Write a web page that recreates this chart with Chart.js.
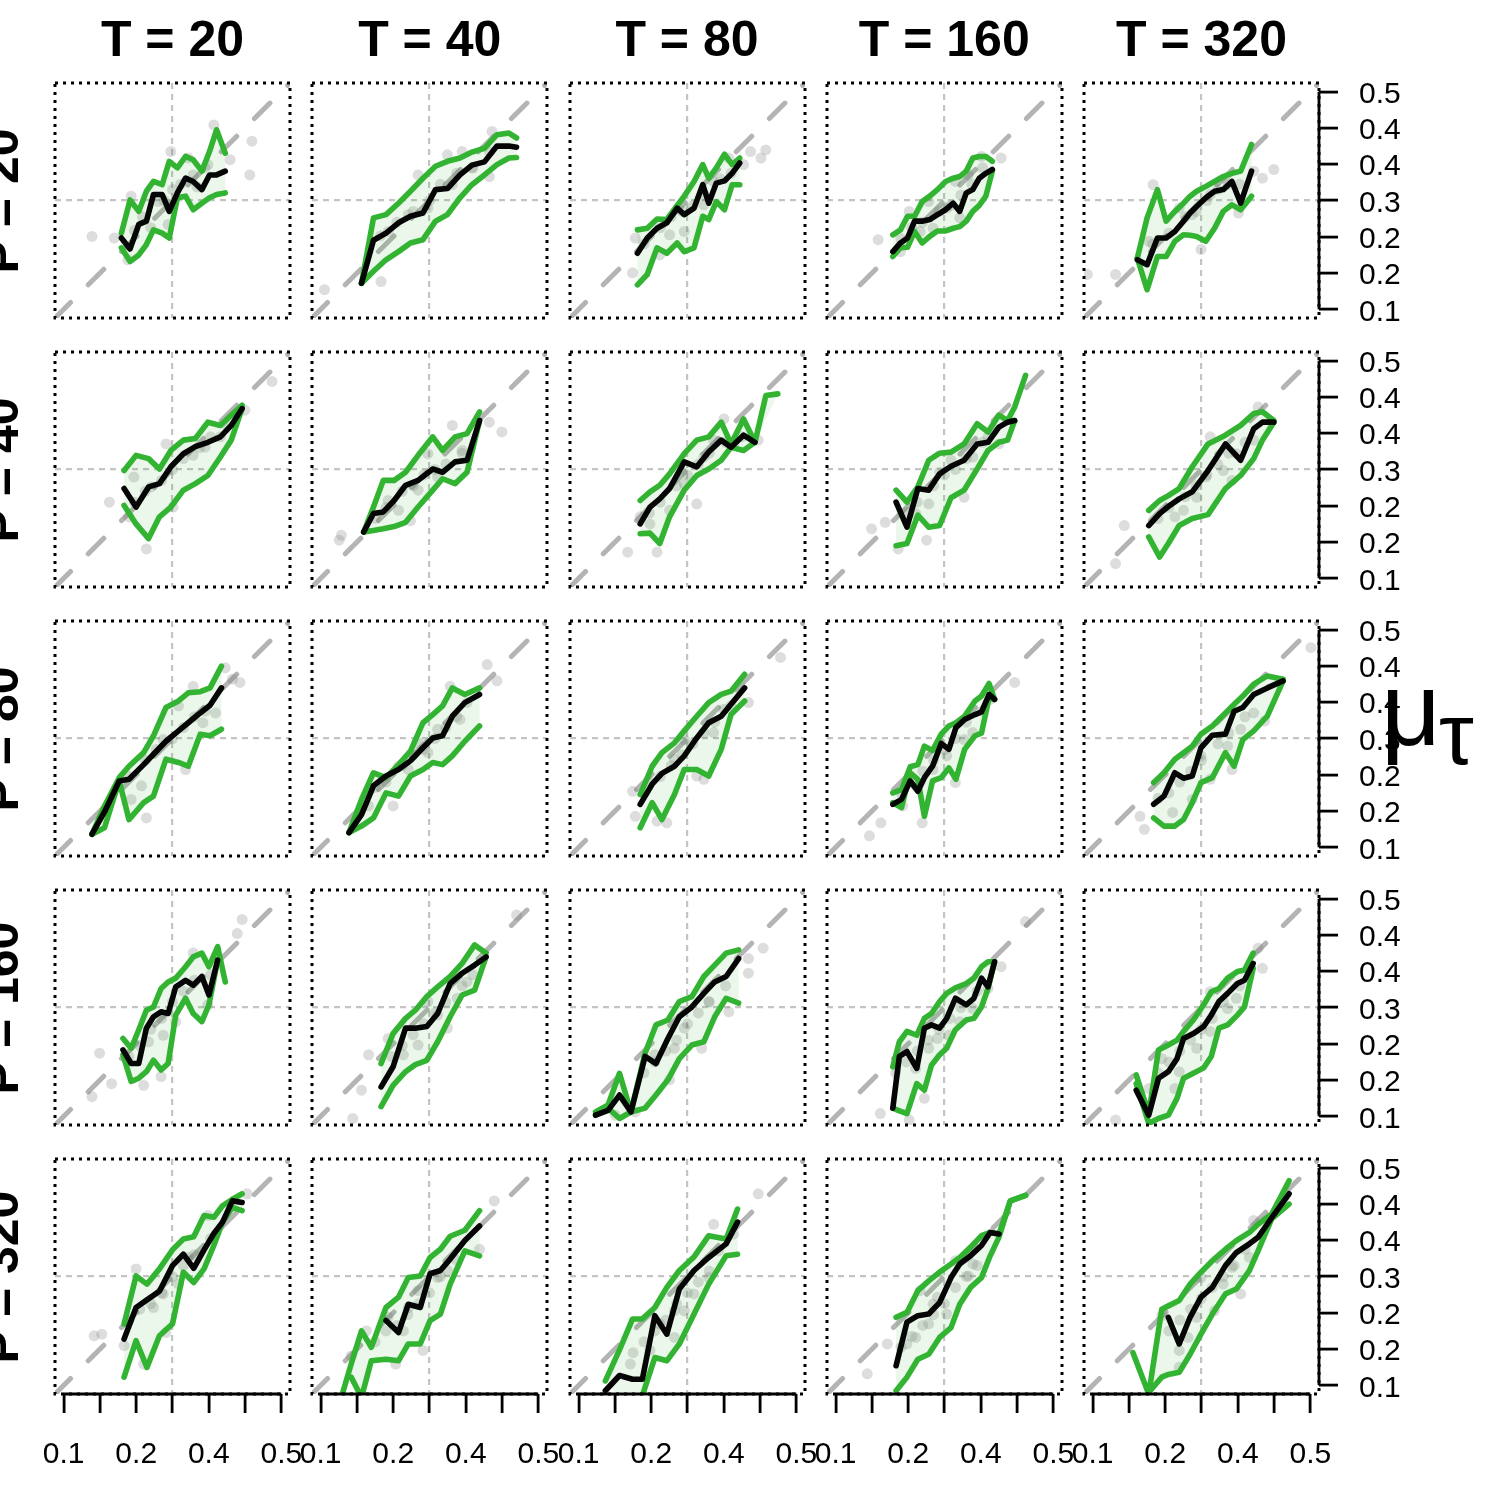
<!DOCTYPE html>
<html><head><meta charset="utf-8">
<script src="https://cdn.jsdelivr.net/npm/chart.js@4.4.1/dist/chart.umd.min.js"></script>
<style>
html,body{margin:0;padding:0;background:#fff;}
#wrap{position:relative;width:1500px;height:1500px;overflow:hidden;background:#fff;font-family:"Liberation Sans",Arial,Helvetica,sans-serif;color:#000;}
#wrap canvas{position:absolute;}
.ttl{position:absolute;font-weight:bold;font-size:50px;line-height:50px;white-space:nowrap;transform:translateX(-50%);}
.rowl{position:absolute;font-weight:bold;font-size:50px;line-height:50px;white-space:nowrap;transform:translate(-50%,-50%) rotate(-90deg);}
.sym{position:absolute;white-space:nowrap;}
</style></head><body><div id="wrap"></div>
<script>
// ---------------- data ----------------
const colT = [20, 40, 80, 160, 320];
const rowP = [20, 40, 80, 160, 320];
const tickValues = [0.1, 0.1667, 0.2333, 0.3, 0.3667, 0.4333, 0.5];
const xTickLabels = ['0.1', '', '0.2', '', '0.4', '', '0.5'];
const yTickLabels = ['0.1', '0.2', '0.2', '0.3', '0.4', '0.4', '0.5'];
const gridValue = 0.3;

// panels in row-major order: P = 20..320 (rows), T = 20..320 (columns)
const binX = [
[0.206,0.222,0.238,0.252,0.265,0.281,0.294,0.309,0.324,0.338,0.354,0.368,0.381,0.397],
[0.175,0.197,0.220,0.243,0.265,0.288,0.311,0.333,0.356,0.378,0.401,0.424,0.446,0.460],
[0.208,0.226,0.244,0.262,0.281,0.294,0.312,0.328,0.339,0.353,0.368,0.382,0.396],
[0.205,0.219,0.232,0.245,0.259,0.273,0.287,0.302,0.316,0.328,0.340,0.352,0.364,0.376,0.388],
[0.182,0.200,0.219,0.235,0.251,0.267,0.279,0.291,0.308,0.324,0.340,0.356,0.372,0.392],
[0.211,0.233,0.256,0.276,0.297,0.320,0.342,0.365,0.388,0.408,0.428],
[0.179,0.197,0.215,0.235,0.256,0.279,0.306,0.324,0.347,0.369,0.392],
[0.213,0.231,0.249,0.267,0.294,0.317,0.339,0.362,0.380,0.403,0.424,0.444,0.466],
[0.211,0.231,0.251,0.271,0.291,0.312,0.336,0.360,0.380,0.400,0.416,0.429,0.449],
[0.203,0.223,0.239,0.259,0.283,0.312,0.344,0.372,0.396,0.412,0.433],
[0.152,0.175,0.202,0.220,0.247,0.265,0.288,0.311,0.329,0.351,0.369,0.390],
[0.152,0.175,0.197,0.220,0.243,0.265,0.288,0.306,0.324,0.342,0.365,0.392],
[0.213,0.235,0.253,0.276,0.294,0.317,0.339,0.362,0.380,0.405],
[0.205,0.221,0.237,0.251,0.263,0.278,0.294,0.308,0.321,0.337,0.356,0.368,0.382,0.392],
[0.212,0.231,0.251,0.267,0.283,0.299,0.320,0.344,0.360,0.376,0.396,0.421,0.450],
[0.209,0.224,0.238,0.252,0.265,0.279,0.292,0.306,0.324,0.338,0.354,0.367,0.383,0.397],
[0.211,0.233,0.256,0.274,0.295,0.315,0.338,0.360,0.383,0.404],
[0.131,0.154,0.175,0.196,0.222,0.242,0.264,0.285,0.308,0.330,0.350,0.371,0.394],
[0.205,0.217,0.231,0.249,0.263,0.276,0.291,0.304,0.320,0.340,0.354,0.368,0.380,0.392],
[0.180,0.203,0.221,0.239,0.255,0.267,0.285,0.304,0.318,0.332,0.348,0.366,0.379,0.395],
[0.211,0.233,0.253,0.276,0.300,0.320,0.339,0.358,0.376,0.392,0.410,0.428],
[0.138,0.156,0.175,0.193,0.220,0.243,0.261,0.283,0.301,0.320,0.338,0.365,0.392],
[0.149,0.175,0.199,0.217,0.240,0.262,0.285,0.312,0.339,0.371,0.392],
[0.211,0.231,0.251,0.271,0.291,0.312,0.328,0.348,0.368,0.384,0.400,0.421,0.449],
[0.174,0.203,0.227,0.239,0.259,0.279,0.299,0.320,0.344,0.364,0.388,0.404,0.429,0.461]
];
const meanY = [
[0.231,0.211,0.256,0.262,0.311,0.311,0.280,0.314,0.341,0.335,0.320,0.347,0.347,0.354],
[0.148,0.227,0.240,0.259,0.271,0.277,0.320,0.322,0.347,0.365,0.371,0.400,0.400,0.398],
[0.203,0.231,0.249,0.259,0.286,0.274,0.286,0.329,0.295,0.332,0.336,0.350,0.369],
[0.206,0.222,0.231,0.262,0.262,0.265,0.274,0.283,0.295,0.280,0.314,0.320,0.341,0.350,0.357],
[0.191,0.182,0.231,0.231,0.243,0.262,0.277,0.289,0.305,0.317,0.320,0.335,0.295,0.354],
[0.265,0.231,0.268,0.274,0.305,0.329,0.342,0.350,0.360,0.381,0.412],
[0.185,0.219,0.222,0.243,0.271,0.280,0.301,0.295,0.314,0.317,0.390],
[0.200,0.231,0.246,0.265,0.314,0.305,0.332,0.354,0.341,0.363,0.350,null,null],
[0.240,0.194,0.265,0.262,0.292,0.306,0.317,0.347,0.350,0.378,0.387,0.390,null],
[0.197,0.219,0.232,0.246,0.259,0.298,0.347,0.317,0.375,0.387,0.387],
[0.124,0.165,0.222,0.225,0.252,0.271,0.295,0.314,0.329,0.347,0.361,0.393],
[0.127,0.160,0.213,0.231,0.243,0.259,0.283,0.301,0.305,0.341,0.366,0.381],
[0.179,0.216,0.236,0.249,0.268,0.301,0.329,0.341,0.363,0.393],
[0.179,0.188,0.222,0.203,0.228,0.249,0.291,0.280,0.320,0.335,0.344,0.349,0.381,0.372],
[0.179,0.194,0.237,0.227,0.231,0.283,0.306,0.308,0.350,0.357,0.381,0.393,0.406],
[0.222,0.197,0.197,0.262,0.283,0.292,0.289,0.338,0.350,0.341,0.357,0.323,0.387,null],
[0.154,0.191,0.262,0.262,0.265,0.289,0.344,0.363,0.378,0.393],
[0.102,0.111,0.139,0.108,0.210,0.197,0.243,0.283,0.301,0.326,0.347,0.357,0.390],
[0.115,0.210,0.219,0.188,0.262,0.268,0.262,0.280,0.317,0.305,0.317,0.354,0.338,0.384],
[0.148,0.102,0.170,0.182,0.206,0.243,0.252,0.265,0.286,0.311,0.326,0.344,0.350,0.381],
[0.185,0.243,0.257,0.273,0.320,0.341,0.315,0.349,0.379,0.400,0.439,0.436],
[null,null,null,null,0.219,0.197,0.249,0.243,0.305,0.311,0.332,0.366,0.393],
[0.090,0.118,0.111,0.111,0.228,0.194,0.277,0.311,0.335,0.360,0.400],
[0.136,0.216,0.228,0.231,0.252,0.298,0.323,0.338,0.357,0.381,0.378,null,null],
[null,null,null,0.225,0.176,0.225,0.262,0.280,0.320,0.344,0.360,0.372,0.408,0.452]
];
const upperY = [
[0.240,0.301,0.280,0.317,0.335,0.329,0.372,0.360,0.381,0.375,0.354,0.390,0.430,0.387],
[0.148,0.268,0.274,0.295,0.317,0.341,0.363,0.372,0.378,0.389,0.396,0.421,0.424,0.415],
[0.246,0.249,0.266,0.265,0.291,0.308,0.335,0.366,0.341,0.360,0.385,0.366,0.378],
[0.237,0.246,0.271,0.271,0.298,0.308,0.320,0.335,0.341,0.344,0.354,0.378,0.381,0.381,0.372],
[0.194,0.268,0.320,0.262,0.280,0.295,0.308,0.317,0.326,0.335,0.344,0.350,0.354,0.403],
[0.298,0.326,0.320,0.301,0.335,0.354,0.357,0.387,0.381,0.400,0.418],
[0.185,0.231,0.280,0.280,0.295,0.326,0.360,0.335,0.360,0.366,0.406],
[0.243,0.259,0.271,0.292,0.329,0.354,0.360,0.387,0.347,0.393,0.350,0.436,0.439],
[0.262,0.240,0.268,0.317,0.330,0.332,0.347,0.384,0.369,0.400,0.390,0.415,0.473],
[0.225,0.243,0.252,0.265,0.305,0.347,0.363,0.381,0.403,0.406,0.390],
[0.124,0.176,0.228,0.249,0.274,0.305,0.357,0.369,0.384,0.386,0.393,0.433],
[0.127,0.188,0.237,0.228,0.252,0.277,0.329,0.344,0.360,0.393,0.381,0.393],
[0.197,0.249,0.274,0.292,0.314,0.341,0.366,0.381,0.387,0.418],
[0.200,0.206,0.248,0.252,0.286,0.278,0.308,0.323,0.329,0.341,0.369,0.378,0.401,0.372],
[0.219,0.237,0.262,0.274,0.286,0.308,0.323,0.347,0.363,0.378,0.400,0.415,0.409],
[0.243,0.225,0.259,0.295,0.301,0.335,0.347,0.354,0.375,0.393,0.400,0.375,0.412,0.347],
[0.197,0.252,0.280,0.295,0.320,0.338,0.357,0.381,0.415,0.400],
[0.108,0.121,0.179,0.108,0.216,0.268,0.277,0.311,0.320,0.357,0.378,0.400,0.406],
[0.191,0.237,0.256,0.249,0.280,0.289,0.311,0.326,0.336,0.344,0.354,0.375,0.384,0.384],
[0.176,0.105,0.222,0.231,0.240,0.256,0.277,0.305,0.329,0.335,0.354,0.366,0.369,0.400],
[0.213,0.301,0.286,0.314,0.349,0.369,0.373,0.412,0.409,0.430,0.442,0.452],
[0.078,0.139,0.200,0.170,0.243,0.262,0.298,0.301,0.335,0.350,0.374,0.385,0.421],
[0.108,0.165,0.222,0.222,0.243,0.280,0.311,0.336,0.375,0.369,0.424],
[0.225,0.234,0.274,0.292,0.308,0.323,0.335,0.354,0.375,0.381,0.378,0.439,0.449],
[0.160,0.084,0.240,0.246,0.256,0.286,0.308,0.329,0.350,0.366,0.381,0.396,0.415,0.476]
];
const lowerY = [
[0.213,0.188,0.200,0.219,0.246,0.240,0.231,0.305,0.308,0.283,0.295,0.305,0.311,0.314],
[0.148,0.170,0.191,0.206,0.222,0.228,0.262,0.274,0.305,0.329,0.347,0.366,0.378,0.379],
[0.145,0.164,0.213,0.203,0.222,0.206,0.213,0.271,0.265,0.298,0.283,0.329,0.329],
[0.197,0.213,0.214,0.243,0.222,0.234,0.244,0.244,0.249,0.252,0.262,0.280,0.291,0.308,0.354],
[0.194,0.136,0.197,0.197,0.225,0.237,0.236,0.234,0.225,0.249,0.280,0.292,0.283,0.308],
[0.234,0.200,0.173,0.213,0.231,0.262,0.274,0.289,0.323,0.354,0.412],
[0.185,0.188,0.191,0.195,0.203,0.231,0.262,0.283,0.274,0.295,0.390],
[0.182,0.183,0.164,0.213,0.262,0.289,0.301,0.317,0.341,0.335,0.350,null,null],
[0.160,0.164,0.216,0.194,0.197,0.248,0.262,0.301,0.335,0.350,0.354,0.390,null],
[0.176,0.139,0.164,0.197,0.210,0.217,0.265,0.289,0.320,0.354,0.387],
[0.124,0.136,0.222,0.151,0.182,0.194,0.262,0.256,0.249,0.308,0.305,0.317],
[0.127,0.139,0.154,0.200,0.194,0.231,0.243,0.256,0.252,0.268,0.295,0.323],
[0.136,0.182,0.151,0.197,0.243,0.243,0.231,0.280,0.344,0.369],
[0.182,0.173,0.237,0.225,0.157,0.222,0.228,0.246,0.225,0.280,0.305,0.310,0.375,0.372],
[0.154,0.139,0.139,0.151,0.182,0.219,0.228,0.274,0.249,0.298,0.314,0.341,0.406],
[0.213,0.164,0.170,0.182,0.203,0.185,0.197,0.286,0.317,0.289,0.274,0.305,0.387,null],
[0.118,0.157,0.182,0.195,0.203,0.237,0.283,0.323,0.332,0.393],
[0.102,0.115,0.096,0.108,0.115,0.139,0.167,0.206,0.231,0.237,0.283,0.317,0.308],
[0.115,0.110,0.105,0.160,0.148,0.194,0.213,0.225,0.259,0.277,0.280,0.301,0.335,0.384],
[0.160,0.087,0.096,0.102,0.133,0.170,0.179,0.189,0.210,0.262,0.268,0.286,0.301,0.372],
[0.115,0.182,0.133,0.191,0.213,0.308,0.289,0.314,0.357,0.400,0.427,0.421],
[null,0.115,0.078,0.145,0.148,0.145,0.176,0.176,0.219,0.231,0.286,0.347,0.338],
[null,0.078,0.079,0.081,0.151,0.145,0.176,0.231,0.286,0.338,0.341],
[0.090,0.115,0.148,0.157,0.188,0.206,0.249,0.280,0.298,0.338,0.372,0.439,0.449],
[null,0.087,0.115,0.120,0.124,0.157,0.194,0.231,0.268,0.277,0.311,0.347,0.406,0.433]
];
const dotX = [
[0.152,0.193,0.376,0.446,0.442,0.406,0.297,0.224,0.329,0.218,0.274,0.338,0.292,0.365,0.245,0.260,0.285,0.300,0.315,0.345,0.360,0.230],
[0.107,0.211,0.279,0.333,0.360,0.415,0.410,0.224,0.297,0.342,0.378,0.261,0.210,0.240,0.270,0.300,0.320,0.350,0.380,0.410],
[0.199,0.204,0.416,0.444,0.435,0.376,0.403,0.267,0.294,0.330,0.348,0.249,0.220,0.250,0.270,0.290,0.310,0.330,0.360,0.380],
[0.178,0.235,0.404,0.368,0.344,0.279,0.304,0.255,0.320,0.271,0.219,0.328,0.220,0.240,0.260,0.290,0.310,0.330,0.350,0.370],
[0.090,0.142,0.211,0.299,0.396,0.412,0.433,0.368,0.259,0.316,0.348,0.283,0.203,0.210,0.240,0.270,0.290,0.310,0.330,0.350,0.370],
[0.184,0.252,0.483,0.433,0.229,0.288,0.338,0.301,0.261,0.360,0.220,0.388,0.230,0.250,0.280,0.300,0.320,0.350,0.370,0.400],
[0.134,0.138,0.410,0.433,0.342,0.224,0.265,0.279,0.315,0.297,0.360,0.243,0.200,0.220,0.250,0.270,0.290,0.310,0.330,0.360],
[0.190,0.244,0.367,0.430,0.317,0.231,0.267,0.294,0.330,0.348,0.385,0.213,0.230,0.250,0.280,0.300,0.320,0.340,0.370,0.400],
[0.166,0.191,0.215,0.336,0.267,0.291,0.312,0.271,0.247,0.400,0.380,0.352,0.230,0.250,0.280,0.300,0.320,0.340,0.370,0.390],
[0.158,0.142,0.404,0.356,0.316,0.267,0.291,0.340,0.364,0.251,0.396,0.308,0.220,0.240,0.270,0.290,0.310,0.330,0.350,0.380],
[0.252,0.410,0.424,0.397,0.324,0.338,0.311,0.283,0.243,0.356,0.379,0.224,0.200,0.220,0.250,0.270,0.300,0.320,0.340,0.360],
[0.233,0.406,0.424,0.338,0.279,0.315,0.243,0.261,0.297,0.356,0.369,0.188,0.200,0.220,0.250,0.270,0.290,0.310,0.330,0.350],
[0.199,0.204,0.244,0.262,0.317,0.330,0.471,0.412,0.294,0.276,0.348,0.367,0.230,0.250,0.270,0.290,0.310,0.330,0.350,0.380],
[0.162,0.183,0.429,0.384,0.259,0.320,0.223,0.279,0.304,0.336,0.352,0.247,0.220,0.240,0.260,0.280,0.300,0.320,0.340,0.370],
[0.187,0.195,0.501,0.416,0.356,0.247,0.283,0.316,0.348,0.372,0.396,0.299,0.220,0.240,0.260,0.280,0.300,0.330,0.350,0.380],
[0.166,0.152,0.188,0.247,0.279,0.428,0.419,0.338,0.283,0.306,0.365,0.256,0.220,0.240,0.260,0.280,0.300,0.320,0.340,0.370],
[0.159,0.175,0.188,0.460,0.224,0.279,0.315,0.351,0.297,0.252,0.369,0.333,0.230,0.250,0.270,0.290,0.310,0.330,0.360,0.380],
[0.412,0.412,0.439,0.267,0.326,0.376,0.240,0.204,0.294,0.339,0.276,0.167,0.220,0.240,0.260,0.280,0.300,0.320,0.340,0.370],
[0.182,0.235,0.263,0.449,0.404,0.308,0.271,0.247,0.328,0.352,0.287,0.380,0.210,0.230,0.250,0.270,0.290,0.310,0.330,0.360],
[0.142,0.412,0.404,0.316,0.227,0.259,0.291,0.316,0.348,0.364,0.251,0.203,0.220,0.240,0.260,0.280,0.300,0.320,0.340,0.370],
[0.156,0.170,0.211,0.247,0.288,0.233,0.437,0.365,0.265,0.283,0.329,0.311,0.220,0.240,0.260,0.280,0.300,0.320,0.340,0.370],
[0.156,0.184,0.238,0.288,0.419,0.392,0.224,0.261,0.279,0.315,0.333,0.252,0.200,0.220,0.240,0.260,0.280,0.300,0.320,0.350],
[0.195,0.430,0.348,0.385,0.249,0.276,0.294,0.312,0.339,0.231,0.276,0.357,0.200,0.220,0.240,0.260,0.280,0.300,0.320,0.340],
[0.158,0.195,0.231,0.247,0.271,0.255,0.304,0.344,0.320,0.287,0.352,0.279,0.220,0.240,0.260,0.280,0.300,0.320,0.340,0.360],
[0.227,0.259,0.275,0.299,0.372,0.396,0.388,0.324,0.340,0.356,0.259,0.291,0.240,0.260,0.280,0.300,0.320,0.340,0.360,0.380]
];
const dotY = [
[0.234,0.231,0.439,0.409,0.347,0.375,0.390,0.308,0.378,0.191,0.298,0.347,0.256,0.366,0.270,0.250,0.300,0.320,0.330,0.325,0.360,0.245],
[0.136,0.151,0.347,0.384,0.390,0.427,0.344,0.243,0.286,0.329,0.360,0.274,0.235,0.260,0.280,0.300,0.330,0.350,0.360,0.390],
[0.167,0.231,0.390,0.393,0.378,0.378,0.366,0.237,0.243,0.292,0.335,0.200,0.220,0.250,0.270,0.280,0.290,0.310,0.340,0.350],
[0.228,0.280,0.378,0.381,0.347,0.249,0.286,0.243,0.335,0.298,0.206,0.268,0.230,0.250,0.260,0.280,0.290,0.310,0.330,0.360],
[0.164,0.164,0.329,0.210,0.354,0.341,0.357,0.277,0.286,0.311,0.335,0.274,0.225,0.220,0.240,0.270,0.280,0.300,0.320,0.330,0.330],
[0.240,0.154,0.462,0.409,0.286,0.347,0.326,0.231,0.268,0.341,0.213,0.360,0.240,0.260,0.280,0.300,0.320,0.340,0.360,0.380],
[0.170,0.179,0.387,0.369,0.381,0.243,0.206,0.262,0.286,0.329,0.335,0.225,0.210,0.230,0.260,0.270,0.290,0.300,0.310,0.330],
[0.148,0.148,0.393,0.354,0.237,0.200,0.225,0.274,0.323,0.354,0.347,0.213,0.220,0.240,0.270,0.290,0.310,0.330,0.350,0.360],
[0.191,0.203,0.154,0.249,0.170,0.295,0.317,0.237,0.219,0.347,0.360,0.323,0.220,0.240,0.270,0.290,0.300,0.320,0.350,0.370],
[0.197,0.127,0.415,0.280,0.360,0.225,0.249,0.298,0.329,0.213,0.354,0.286,0.210,0.230,0.250,0.270,0.290,0.310,0.330,0.350],
[0.154,0.409,0.403,0.430,0.243,0.396,0.360,0.298,0.213,0.329,0.347,0.188,0.210,0.230,0.260,0.280,0.300,0.320,0.340,0.350],
[0.176,0.436,0.406,0.396,0.292,0.317,0.249,0.243,0.274,0.335,0.366,0.176,0.210,0.220,0.250,0.270,0.280,0.300,0.320,0.340],
[0.203,0.157,0.148,0.145,0.231,0.225,0.449,0.366,0.298,0.262,0.311,0.354,0.220,0.230,0.250,0.270,0.290,0.310,0.330,0.360],
[0.121,0.145,0.403,0.372,0.145,0.219,0.176,0.243,0.268,0.298,0.311,0.213,0.200,0.220,0.240,0.260,0.280,0.300,0.330,0.350],
[0.157,0.133,0.467,0.332,0.243,0.164,0.188,0.225,0.286,0.317,0.347,0.268,0.190,0.200,0.220,0.240,0.260,0.290,0.310,0.340],
[0.216,0.136,0.160,0.157,0.173,0.462,0.436,0.400,0.249,0.274,0.305,0.237,0.210,0.230,0.260,0.280,0.310,0.330,0.350,0.360],
[0.096,0.148,0.213,0.470,0.243,0.231,0.286,0.317,0.311,0.213,0.347,0.262,0.210,0.230,0.250,0.270,0.290,0.310,0.340,0.360],
[0.390,0.363,0.409,0.167,0.225,0.292,0.213,0.108,0.262,0.311,0.225,0.102,0.180,0.200,0.220,0.240,0.270,0.290,0.310,0.340],
[0.105,0.093,0.133,0.458,0.375,0.249,0.225,0.188,0.274,0.298,0.243,0.335,0.180,0.200,0.220,0.240,0.260,0.280,0.300,0.330],
[0.093,0.372,0.409,0.329,0.206,0.182,0.225,0.256,0.298,0.317,0.151,0.151,0.180,0.200,0.220,0.240,0.260,0.280,0.310,0.340],
[0.191,0.194,0.173,0.139,0.197,0.314,0.452,0.412,0.243,0.268,0.335,0.286,0.220,0.240,0.250,0.270,0.300,0.320,0.340,0.370],
[0.154,0.200,0.139,0.164,0.439,0.350,0.225,0.243,0.274,0.298,0.311,0.200,0.180,0.200,0.210,0.230,0.250,0.270,0.300,0.330],
[0.139,0.452,0.396,0.378,0.213,0.188,0.237,0.268,0.298,0.164,0.237,0.347,0.160,0.180,0.200,0.220,0.250,0.270,0.290,0.310],
[0.121,0.176,0.176,0.188,0.213,0.274,0.231,0.301,0.329,0.262,0.323,0.249,0.170,0.190,0.210,0.230,0.250,0.280,0.300,0.320],
[0.228,0.164,0.188,0.298,0.268,0.403,0.335,0.237,0.286,0.317,0.133,0.225,0.200,0.220,0.240,0.260,0.280,0.300,0.320,0.350]
];

// ---------------- layout / style ----------------
const AX_MIN = 0.084, AX_MAX = 0.516;
const PANEL = 235, COL0 = 55, COL_STEP = 257.25, ROW0 = 83, ROW_STEP = 269;
const PAD = 30, XAXIS_H = 95, YAXIS_W = 140;
const FONT = '"Liberation Sans", Arial, Helvetica, sans-serif';
const GREEN = '#32b432';

const wrap = document.getElementById('wrap');

const panelBorder = {
  id: 'panelBorder',
  afterDatasetsDraw(chart) {
    const {ctx, chartArea: a} = chart;
    ctx.save();
    ctx.strokeStyle = '#000';
    ctx.lineWidth = 3;
    ctx.lineCap = 'butt';
    ctx.setLineDash([3, 5]);
    ctx.strokeRect(a.left, a.top, a.right - a.left, a.bottom - a.top);
    ctx.restore();
  }
};
const rAxisLine = {
  id: 'rAxisLine',
  afterDraw(chart, args, opts) {
    const {ctx, chartArea: a, scales} = chart;
    const lo = tickValues[0], hi = tickValues[tickValues.length - 1];
    ctx.save();
    ctx.strokeStyle = '#000'; ctx.lineWidth = 2.8; ctx.lineCap = 'butt'; ctx.setLineDash([]);
    if (opts.x) {
      ctx.beginPath();
      ctx.moveTo(scales.x.getPixelForValue(lo), a.bottom);
      ctx.lineTo(scales.x.getPixelForValue(hi), a.bottom);
      ctx.stroke();
    }
    if (opts.y) {
      ctx.beginPath();
      ctx.moveTo(a.right, scales.y.getPixelForValue(lo));
      ctx.lineTo(a.right, scales.y.getPixelForValue(hi));
      ctx.stroke();
    }
    ctx.restore();
  }
};

function scaleCfg(axis, show) {
  return {
    type: 'linear', min: AX_MIN, max: AX_MAX,
    position: axis === 'x' ? 'bottom' : (show ? 'right' : 'left'),
    afterBuildTicks: s => { s.ticks = tickValues.map(v => ({value: v})); },
    afterFit: s => {
      if (axis === 'x') s.height = show ? XAXIS_H : 0; else s.width = show ? YAXIS_W : 0;
      s.paddingLeft = 0; s.paddingRight = 0; s.paddingTop = 0; s.paddingBottom = 0;
    },
    ticks: {
      display: show, autoSkip: false, maxRotation: 0, minRotation: 0,
      padding: axis === 'x' ? 24 : 21, labelOffset: axis === 'x' ? 0 : 3, color: '#000',
      font: {family: FONT, size: 30},
      callback: (v, i) => (axis === 'x' ? xTickLabels : yTickLabels)[i]
    },
    grid: {
      display: true, drawOnChartArea: true, drawTicks: show,
      tickLength: 19, tickWidth: 2.8, tickColor: '#000', lineWidth: 2.2,
      color: c => (c.tick && Math.abs(c.tick.value - gridValue) < 1e-6) ? '#c4c4c4' : 'rgba(0,0,0,0)'
    },
    border: {display: false, dash: [6, 5]}
  };
}

function pts(xs, ys) {
  const out = [];
  for (let i = 0; i < xs.length; i++) out.push({x: xs[i], y: ys[i]});
  return out;
}

function makePanel(r, c) {
  const k = r * 5 + c;
  const isBottom = r === 4, isRight = c === 4;
  const w = PANEL + 2 * PAD + (isRight ? YAXIS_W : 0);
  const h = PANEL + 2 * PAD + (isBottom ? XAXIS_H : 0);
  const cv = document.createElement('canvas');
  cv.width = w; cv.height = h;
  cv.style.width = w + 'px'; cv.style.height = h + 'px';
  cv.style.left = Math.round(COL0 + c * COL_STEP - PAD) + 'px';
  cv.style.top = Math.round(ROW0 + r * ROW_STEP - PAD) + 'px';
  wrap.appendChild(cv);

  const xs = binX[k];
  const band = [];
  for (let i = 0; i < xs.length; i++) if (upperY[k][i] != null) band.push({x: xs[i], y: upperY[k][i]});
  for (let i = xs.length - 1; i >= 0; i--) if (lowerY[k][i] != null) band.push({x: xs[i], y: lowerY[k][i]});

  const lineBase = {pointRadius: 0, tension: 0, spanGaps: false, borderCapStyle: 'round', borderJoinStyle: 'round', fill: false};

  new Chart(cv, {
    type: 'line',
    data: {
      datasets: [
        Object.assign({label: 'mean', data: pts(xs, meanY[k]), borderColor: '#050505', borderWidth: 5.6, order: 0}, lineBase),
        Object.assign({label: 'upper', data: pts(xs, upperY[k]), borderColor: GREEN, borderWidth: 5.6, order: 1}, lineBase),
        Object.assign({label: 'lower', data: pts(xs, lowerY[k]), borderColor: GREEN, borderWidth: 5.6, order: 1}, lineBase),
        {label: 'band', data: band, pointRadius: 0, tension: 0, borderWidth: 0, borderColor: 'rgba(0,0,0,0)',
         backgroundColor: 'rgba(50,180,50,0.10)', fill: 'shape', order: 2},
        {label: 'sims', type: 'scatter', data: pts(dotX[k], dotY[k]), pointRadius: 5.5, pointBorderWidth: 0,
         borderWidth: 0, backgroundColor: 'rgba(100,100,100,0.22)', borderColor: 'rgba(0,0,0,0)', order: 3},
        {label: 'identity', data: [{x: AX_MIN, y: AX_MIN}, {x: AX_MAX, y: AX_MAX}], pointRadius: 0,
         borderColor: '#b4b4b4', borderWidth: 5, borderDash: [22, 25], borderCapStyle: 'round', fill: false, order: 4}
      ]
    },
    options: {
      responsive: false, maintainAspectRatio: false, animation: false, devicePixelRatio: 1,
      events: [],
      layout: {padding: PAD},
      plugins: {legend: {display: false}, tooltip: {enabled: false}, rAxisLine: {x: isBottom, y: isRight}},
      scales: {x: scaleCfg('x', isBottom), y: scaleCfg('y', isRight)}
    },
    plugins: [panelBorder, rAxisLine]
  });
}

for (let r = 0; r < 5; r++) for (let c = 0; c < 5; c++) makePanel(r, c);

// titles
colT.forEach((t, c) => {
  const d = document.createElement('div');
  d.className = 'ttl';
  d.textContent = 'T = ' + t;
  d.style.left = (COL0 + c * COL_STEP + PANEL / 2) + 'px';
  d.style.top = '14px';
  wrap.appendChild(d);
});
rowP.forEach((p, r) => {
  const d = document.createElement('div');
  d.className = 'rowl';
  d.textContent = 'P = ' + p;
  d.style.left = '1px';
  d.style.top = (ROW0 + r * ROW_STEP + PANEL / 2) + 'px';
  wrap.appendChild(d);
});
// axis symbol mu_tau
const mu = document.createElement('div');
mu.className = 'sym';
mu.style.cssText += 'left:1381px;top:657px;font-size:104px;line-height:104px;';
mu.textContent = 'μ';
wrap.appendChild(mu);
const tau = document.createElement('div');
tau.className = 'sym';
tau.style.cssText += 'left:1439px;top:690px;font-size:88px;line-height:88px;';
tau.textContent = 'τ';
wrap.appendChild(tau);
</script>
</body></html>
